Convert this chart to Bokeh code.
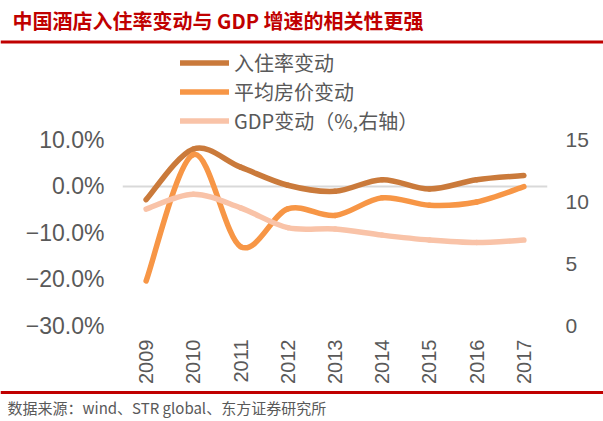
from bokeh.plotting import figure
from bokeh.models import Range1d, LinearAxis, FixedTicker, Legend, LegendItem, Label, Span
from bokeh.layouts import column
from bokeh.embed import file_html
from bokeh.resources import INLINE

# ---------------- data ----------------
years = [2009, 2010, 2011, 2012, 2013, 2014, 2015, 2016, 2017]
occupancy_chg = [-2.9, 8.0, 4.1, 0.2, -1.1, 1.4, -0.6, 1.4, 2.3]      # %, left axis
adr_chg = [-20.4, 6.8, -13.0, -4.9, -6.3, -2.5, -4.1, -3.4, -0.1]      # %, left axis
gdp_growth = [9.4, 10.6, 9.5, 7.9, 7.8, 7.3, 6.9, 6.7, 6.9]            # %, right axis
left_ticks = [-30, -20, -10, 0, 10]
left_labels = ["\u221230.0%", "\u221220.0%", "\u221210.0%", "0.0%", "10.0%"]
right_ticks = [0, 5, 10, 15]
series_names = ["入住率变动", "平均房价变动", "GDP变动（%,右轴）"]
title_text = "中国酒店入住率变动与 GDP 增速的相关性更强"
source_text = "数据来源：wind、STR global、东方证券研究所"

# ---------------- styles ----------------
RED = "#C00000"
GRAY = "#595959"
COLORS = ["#CA7A3B", "#F79646", "#F9C3A8"]
CJK = "Noto Sans CJK SC"
LAT = "Liberation Sans"
W = 603

# ---------------- helpers ----------------
def smooth_segments(xs, ys):
    """Cubic Bezier control points (Excel-like smoothed line) built from the data points."""
    n = len(xs)
    out = dict(x0=[], y0=[], x1=[], y1=[], cx0=[], cy0=[], cx1=[], cy1=[])
    for i in range(n - 1):
        a = i - 1 if i > 0 else i
        d = i + 2 if i + 2 < n else i + 1
        out["x0"].append(xs[i]); out["y0"].append(ys[i])
        out["x1"].append(xs[i + 1]); out["y1"].append(ys[i + 1])
        out["cx0"].append(xs[i] + (xs[i + 1] - xs[a]) / 6.0)
        out["cy0"].append(ys[i] + (ys[i + 1] - ys[a]) / 6.0)
        out["cx1"].append(xs[i + 1] - (xs[d] - xs[i]) / 6.0)
        out["cy1"].append(ys[i + 1] - (ys[d] - ys[i]) / 6.0)
    return out

def strip(height):
    f = figure(width=W, height=height, output_backend="svg", toolbar_location=None,
               x_range=Range1d(0, W), y_range=Range1d(0, height),
               x_axis_location=None, y_axis_location=None, min_border=0)
    f.grid.visible = False
    f.outline_line_color = None
    f.frame_align = False
    return f

# ---------------- title strip ----------------
TH = 44
top = strip(TH)
top.add_layout(Label(x=12, y=TH - 20, x_units="screen", y_units="screen", text=title_text,
                     text_font=CJK, text_font_size="20px", text_font_style="bold",
                     text_color=RED, text_baseline="middle"))
top.add_layout(Span(location=TH - 41.5, dimension="width", line_color=RED, line_width=3))

# ---------------- main chart ----------------
MH = 342
MB_TOP, MB_BOT, MB_L, MB_R = 0, 60, 122, 56
frame_h = MH - MB_TOP - MB_BOT
px_per_10pct = 46.6
left_end = -30 + frame_h * 10.0 / px_per_10pct
right_end = frame_h * 15.0 / (4 * px_per_10pct)

p = figure(width=W, height=MH, output_backend="svg", toolbar_location=None,
           x_range=Range1d(years[0] - 0.5, years[-1] + 0.5),
           y_range=Range1d(-30, left_end),
           min_border_top=MB_TOP, min_border_bottom=MB_BOT,
           min_border_left=MB_L, min_border_right=MB_R)
p.outline_line_color = None
p.frame_align = False
p.extra_y_ranges = {"gdp": Range1d(0, right_end)}

p.xgrid.visible = False
p.ygrid.ticker = FixedTicker(ticks=[0])
p.ygrid.grid_line_color = "#D9D9D9"
p.ygrid.grid_line_width = 2

# x axis
xa = p.xaxis[0]
xa.ticker = FixedTicker(ticks=years)
xa.major_label_overrides = {y: str(y) for y in years}
xa.major_label_orientation = 3.14159265 / 2
xa.axis_line_color = None
xa.major_tick_line_color = None
xa.minor_tick_line_color = None
xa.major_tick_out = 0
xa.major_label_standoff = 14
xa.major_label_text_font = LAT
xa.major_label_text_font_size = "20px"
xa.major_label_text_color = GRAY

# left axis
ya = p.yaxis[0]
ya.ticker = FixedTicker(ticks=left_ticks)
ya.major_label_overrides = {t: l for t, l in zip(left_ticks, left_labels)}
ya.axis_line_color = None
ya.major_tick_line_color = None
ya.minor_tick_line_color = None
ya.major_tick_out = 0
ya.major_label_standoff = 18
ya.major_label_text_font = LAT
ya.major_label_text_font_size = "23px"
ya.major_label_text_color = GRAY

# right axis
ra = LinearAxis(y_range_name="gdp", ticker=FixedTicker(ticks=right_ticks))
ra.axis_line_color = None
ra.major_tick_line_color = None
ra.minor_tick_line_color = None
ra.major_tick_out = 0
ra.major_label_standoff = 18
ra.major_label_text_font = LAT
ra.major_label_text_font_size = "21px"
ra.major_label_text_color = GRAY
p.add_layout(ra, "right")

# series (smoothed lines)
series = [(occupancy_chg, "default"), (adr_chg, "default"), (gdp_growth, "gdp")]
renderers = []
for (vals, rng), col in zip(series, COLORS):
    seg = smooth_segments(years, vals)
    kw = {} if rng == "default" else {"y_range_name": rng}
    renderers.append(p.bezier(line_color=col, line_width=5.5, line_cap="round", **seg, **kw))

legend = Legend(items=[LegendItem(label=n, renderers=[r]) for n, r in zip(series_names, renderers)],
                location=(58, 190), orientation="vertical",
                glyph_width=49, glyph_height=27, label_height=27, spacing=0,
                padding=0, margin=0, label_standoff=5,
                border_line_color=None, background_fill_alpha=0,
                label_text_font=CJK, label_text_font_size="20px", label_text_color=GRAY)
p.add_layout(legend)

# ---------------- footer ----------------
FH = 35
foot = strip(FH)
foot.add_layout(Span(location=FH - 6, dimension="width", line_color=RED, line_width=3))
foot.add_layout(Label(x=7, y=FH - 21, x_units="screen", y_units="screen", text=source_text,
                      text_font=CJK, text_font_size="15px", text_color=GRAY,
                      text_baseline="middle"))

layout = column(top, p, foot, spacing=0)
open("out.html", "w").write(file_html(layout, INLINE))
